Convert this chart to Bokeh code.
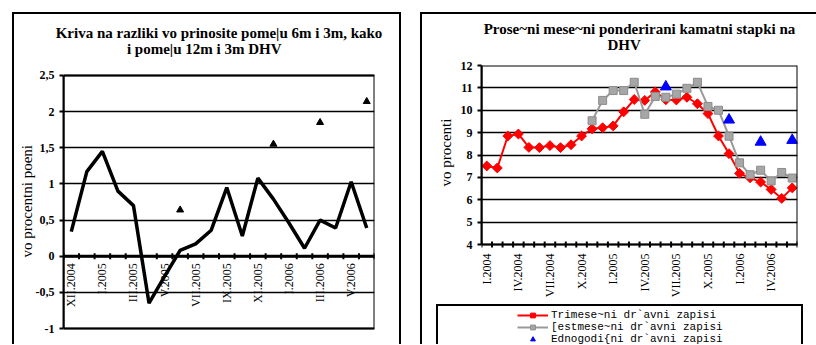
import math
from bokeh.plotting import figure
from bokeh.layouts import row
from bokeh.models import FixedTicker, Range1d, Legend, LegendItem, Span, BoxAnnotation
from bokeh.embed import file_html
from bokeh.resources import INLINE

nan = float("nan")
NBSP = "\u00a0"

# ---------------- Left chart data ----------------
left_title_lines = ["Kriva na razliki vo prinosite pome|u 6m i 3m, kako",
                    "i pome|u 12m i 3m DHV"]
left_ylabel = "vo procentni poeni"
left_tick_labels = ["XII.2004", "I.2005", "III.2005", "V.2005", "VII.2005",
                    "IX.2005", "XI.2005", "I.2006", "III.2006", "V.2006"]
spread_6m_3m = [0.34, 1.17, 1.45, 0.90, 0.70, -0.65, -0.28, 0.08, 0.17, 0.36,
                0.95, 0.28, 1.08, 0.79, 0.46, 0.11, 0.50, 0.39, 1.03, 0.39]
spread_12m_3m = [nan, nan, nan, nan, nan, nan, nan, 0.64, nan, nan,
                 nan, nan, nan, 1.55, nan, nan, 1.85, nan, nan, 2.14]
left_yticks = [-1, -0.5, 0, 0.5, 1, 1.5, 2, 2.5]
left_ytick_labels = ["-1", "-0,5", "0", "0,5", "1", "1,5", "2", "2,5"]

# ---------------- Right chart data ----------------
right_title_lines = ["Prose~ni mese~ni ponderirani kamatni stapki na", "DHV"]
right_ylabel = "vo procenti"
right_tick_labels = ["I.2004", "IV.2004", "VII.2004", "X.2004", "I.2005",
                     "IV.2005", "VII.2005", "X.2005", "I.2006", "IV.2006"]
tbill_3m = [7.51, 7.42, 8.85, 8.94, 8.34, 8.33, 8.42, 8.33, 8.46, 8.85,
            9.17, 9.22, 9.30, 9.93, 10.48, 10.44, 10.82, 10.47, 10.46, 10.58,
            10.29, 9.85, 8.85, 8.06, 7.18, 6.98, 6.79, 6.46, 6.06, 6.53]
tbill_6m = [nan, nan, nan, nan, nan, nan, nan, nan, nan, nan,
            9.53, 10.44, 10.88, 10.88, 11.25, 9.82, 10.62, 10.58, 10.72, 10.98,
            11.25, 10.17, 10.00, 8.84, 7.65, 7.12, 7.32, 6.84, 7.22, 6.97]
tbill_12m = [nan, nan, nan, nan, nan, nan, nan, nan, nan, nan,
             nan, nan, nan, nan, nan, nan, nan, 11.05, nan, nan,
             nan, nan, nan, 9.57, nan, nan, 8.58, nan, nan, 8.66]
series_names = ["Trimese~ni dr`avni zapisi", "[estmese~ni dr`avni zapisi",
                "Ednogodi{ni dr`avni zapisi"]
right_yticks = [4, 5, 6, 7, 8, 9, 10, 11, 12]

SERIF = "Liberation Serif"


def bg_lines(rects):
    """CSS background made of solid black rectangles (outer chart frames)."""
    grad = "linear-gradient(#000, #000)"
    return {
        "background-image": ", ".join([grad] * len(rects)),
        "background-size": ", ".join(f"{w} {h}" for (_, _, w, h) in rects),
        "background-position": ", ".join(f"{x} {y}" for (x, y, _, _) in rects),
        "background-repeat": "no-repeat",
    }


def style_common(p, title_text, standoff, offset, yticks):
    p.title.text = title_text
    p.title.align = "center"
    p.title.standoff = standoff
    p.title.offset = offset
    p.title.text_font = SERIF
    p.title.text_font_style = "bold"
    p.title.text_font_size = "15px"
    p.title.text_color = "black"
    p.border_fill_alpha = 0
    p.background_fill_alpha = 0
    p.outline_line_color = None
    p.xgrid.visible = False
    p.ygrid.ticker = FixedTicker(ticks=yticks)
    p.ygrid.grid_line_color = "black"
    p.ygrid.grid_line_width = 1.5
    p.yaxis.ticker = FixedTicker(ticks=yticks)
    p.yaxis.bounds = (yticks[0], yticks[-1])
    p.yaxis.axis_line_color = "black"
    p.yaxis.axis_line_width = 2
    p.yaxis.major_tick_in = 0
    p.yaxis.major_tick_out = 4
    p.yaxis.major_tick_line_width = 2
    p.yaxis.minor_tick_line_color = None
    p.yaxis.major_label_text_font = SERIF
    p.yaxis.major_label_text_font_style = "bold"
    p.yaxis.major_label_text_font_size = "12px"
    p.yaxis.major_label_text_color = "black"
    p.yaxis.axis_label_text_font = SERIF
    p.yaxis.axis_label_text_font_style = "normal"
    p.yaxis.axis_label_text_font_size = "15px"
    p.yaxis.axis_label_text_color = "black"


def plot_box(p, n, yticks):
    """Black border of the plotting area (categories 0..n, value axis limits)."""
    p.add_layout(BoxAnnotation(left=0, right=n, bottom=yticks[0], top=yticks[-1],
                               fill_alpha=0, line_color="black", line_width=2, line_alpha=1))


def category_axis(p, n, labels, label_pos, y0, offset):
    """Category tick marks and rotated labels drawn on the line y = y0."""
    bounds = list(range(n + 1))
    p.scatter(bounds, [y0] * len(bounds), marker="dash", angle=math.pi / 2, size=6,
              line_color="black", line_width=2)
    p.text(label_pos, [y0] * len(label_pos), text=labels,
           angle=math.pi / 2, text_align="right", text_baseline="middle", y_offset=offset,
           text_font=SERIF, text_font_size="12px", text_color="black")


# Both frames span the same canvas rows (65 px to the bottom); the value ranges are
# widened so that the value-axis limits land where the reference draws them.

# ---------------- Left figure ----------------
n_left = len(spread_6m_3m)
xl = [i + 0.5 for i in range(n_left)]
p1 = figure(width=389, height=344, x_range=Range1d(0, n_left),
            y_range=Range1d(-1.221, 2.638), x_axis_location=None,
            output_backend="svg", toolbar_location=None,
            min_border_left=51, min_border_right=27, min_border_top=65, min_border_bottom=0)
style_common(p1, left_title_lines[0] + "\n" + NBSP * 19 + left_title_lines[1], 17, 2, left_yticks)
plot_box(p1, n_left, left_yticks)
p1.add_layout(Span(location=0, dimension="width", line_color="black", line_width=3))
p1.line(xl, spread_6m_3m, line_color="black", line_width=3.5)
p1.scatter(xl, spread_12m_3m, marker="triangle", size=7, fill_color="black", line_color="black")
left_label_pos = [0.5 + 2 * k for k in range(len(left_tick_labels))]
category_axis(p1, n_left, left_tick_labels, left_label_pos, 0, 7)
p1.yaxis.major_label_overrides = {t: s for t, s in zip(left_yticks, left_ytick_labels)}
p1.yaxis.axis_label = NBSP * 2 + left_ylabel
p1.yaxis.axis_label_standoff = -2
p1.margin = (0, 0, 0, 12)
p1.styles = bg_lines([("0px", "12px", "2px", "100%"), ("0px", "12px", "100%", "2px"),
                      ("387px", "12px", "2px", "100%")])

# ---------------- Right figure ----------------
n_right = len(tbill_3m)
xr = [i + 0.5 for i in range(n_right)]
p2 = figure(width=396, height=344, x_range=Range1d(0, n_right), y_range=Range1d(-0.469, 12),
            x_axis_location=None, output_backend="svg", toolbar_location=None,
            min_border_left=61, min_border_right=19, min_border_top=65, min_border_bottom=0)
style_common(p2, right_title_lines[0] + "\n" + NBSP * 33 + right_title_lines[1], 25, -14,
             right_yticks)
plot_box(p2, n_right, right_yticks)
r3l = p2.line(xr, tbill_3m, line_color="#FF0000", line_width=2)
r3m = p2.scatter(xr, tbill_3m, marker="square", angle=math.pi / 4, size=7,
                 fill_color="#FF0000", line_color="#FF0000")
r6l = p2.line(xr, tbill_6m, line_color="#999999", line_width=2)
r6m = p2.scatter(xr, tbill_6m, marker="square", size=8, fill_color="#A6A6A6", line_color="#8C8C8C")
r12m = p2.scatter(xr, tbill_12m, marker="triangle", size=11, fill_color="#0000FF", line_color="#0000FF")
# leading no-break spaces lift the label so it centres on the 4..12 axis, not the taller frame
p2.yaxis.axis_label = NBSP * 28 + right_ylabel
p2.yaxis.axis_label_standoff = 4
right_label_pos = [0.5 + 3 * k for k in range(len(right_tick_labels))]
category_axis(p2, n_right, right_tick_labels, right_label_pos, right_yticks[0], 9)
p2.margin = (0, 0, 0, 19)
p2.styles = bg_lines([("0px", "12px", "2px", "100%"), ("0px", "12px", "100%", "2px"),
                      ("16px", "304px", "2px", "60px"), ("16px", "304px", "367px", "2px"),
                      ("381px", "304px", "2px", "60px")])

legend_items = Legend(items=[LegendItem(label=series_names[0], renderers=[r3l, r3m]),
                             LegendItem(label=series_names[1], renderers=[r6l, r6m]),
                             LegendItem(label=series_names[2], renderers=[r12m])],
                      location=(36, -1), padding=0, margin=0, spacing=0,
                      glyph_width=31, glyph_height=12, label_height=12, label_standoff=3,
                      label_text_font="Liberation Mono", label_text_font_size="11px",
                      label_text_color="black", border_line_alpha=0,
                      background_fill_alpha=0)
p2.add_layout(legend_items, "center")

layout = row(p1, p2)
open("out.html", "w").write(file_html(layout, INLINE))
